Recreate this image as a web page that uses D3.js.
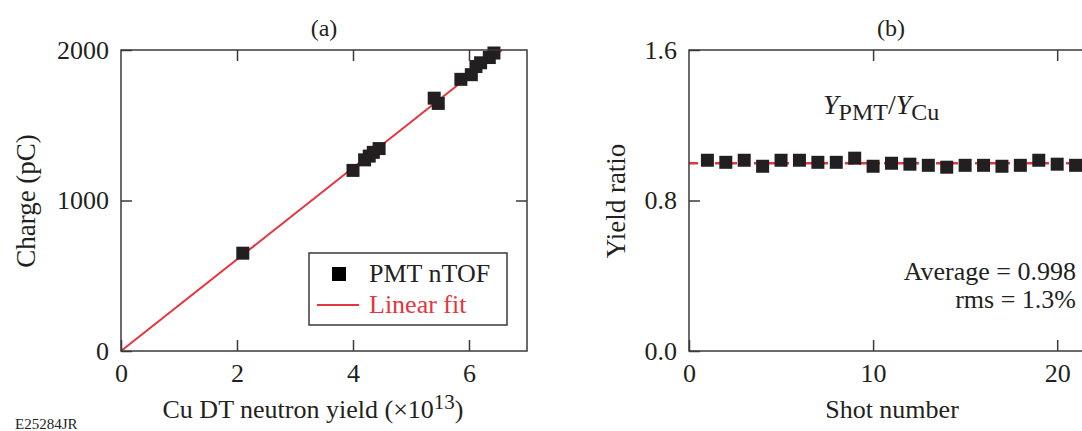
<!DOCTYPE html>
<meta charset="utf-8">
<style>
body { margin: 0; background: #fff; }
text { font-family: "Liberation Serif", "Times New Roman", serif; fill: #231f20; }
.frame { fill: none; stroke: #3a3a3a; stroke-width: 1.5px; }
.tick line { stroke: #3a3a3a; stroke-width: 1.5px; }
.tick text { font-size: 26px; }
</style>
<body>
<script src="https://d3js.org/d3.v7.min.js"></script>
<script>

// panel (a) data: Cu DT neutron yield (x1e13) vs PMT charge (pC)
var yieldA  = [2.1, 4.0, 4.2, 4.28, 4.35, 4.45, 5.4, 5.47, 5.86, 6.04, 6.12, 6.2, 6.35, 6.43];
var chargeA = [650, 1200, 1270, 1295, 1320, 1345, 1680, 1645, 1805, 1836, 1890, 1915, 1950, 1980];
// linear fit endpoints
var fitX = [0, 6.57];
var fitY = [0, 2000];

// panel (b) data: yield ratio by shot
var shots  = [1, 2, 3, 4, 5, 6, 7, 8, 9, 10, 11, 12, 13, 14, 15, 16, 17, 18, 19, 20, 21];
var ratios = [1.014, 1.003, 1.014, 0.982, 1.014, 1.014, 1.003, 1.003, 1.025, 0.982, 0.998,
              0.993, 0.987, 0.977, 0.987, 0.987, 0.982, 0.987, 1.014, 0.993, 0.987];
var average = 0.998;

var ticksAx = [0, 2, 4, 6];
var ticksAy = [0, 1000, 2000];
var ticksBx = [0, 10, 20];
var ticksBy = [0, 0.8, 1.6];

var svg = d3.select("body").append("svg")
    .attr("width", 1082)
    .attr("height", 431);

var top0 = 50, bot0 = 351, tk = 11;

// ---------- panel (a) ----------
var xa = d3.scaleLinear().domain([0, 7]).range([121, 527]);
var ya = d3.scaleLinear().domain([0, 2000]).range([bot0, top0]);

// fit line
var fit = d3.line().x(function(d) { return xa(d[0]); }).y(function(d) { return ya(d[1]); });
svg.append("path")
    .datum(d3.zip(fitX, fitY))
    .attr("d", fit)
    .attr("fill", "none")
    .attr("stroke", "#e5353f")
    .attr("stroke-width", 2);

// points
var ms = 13;
svg.append("g").selectAll("rect")
    .data(d3.zip(yieldA, chargeA))
  .enter().append("rect")
    .attr("x", function(d) { return xa(d[0]) - ms / 2; })
    .attr("y", function(d) { return ya(d[1]) - ms / 2; })
    .attr("width", ms).attr("height", ms)
    .attr("fill", "#231f20");

// axes (ticks point inward)
svg.append("g").attr("transform", "translate(0," + bot0 + ")")
    .call(d3.axisBottom(xa).tickValues(ticksAx).tickSize(-tk).tickPadding(13).tickFormat(d3.format("d")))
    .call(function(g) { g.select(".domain").remove(); });
svg.append("g").attr("transform", "translate(0," + top0 + ")")
    .call(d3.axisTop(xa).tickValues(ticksAx.slice(1)).tickSize(-tk).tickFormat(""))
    .call(function(g) { g.select(".domain").remove(); });
svg.append("g").attr("transform", "translate(121,0)")
    .call(d3.axisLeft(ya).tickValues(ticksAy).tickSize(-tk).tickPadding(12).tickFormat(d3.format("d")))
    .call(function(g) { g.select(".domain").remove(); });
svg.append("g").attr("transform", "translate(527,0)")
    .call(d3.axisRight(ya).tickValues([1000]).tickSize(-tk).tickFormat(""))
    .call(function(g) { g.select(".domain").remove(); });
svg.append("rect").attr("class", "frame")
    .attr("x", 121).attr("y", top0).attr("width", 527 - 121).attr("height", bot0 - top0);

// legend
svg.append("rect").attr("class", "frame")
    .attr("x", 309).attr("y", 253).attr("width", 198).attr("height", 72)
    .style("fill", "#fff");
svg.append("rect").attr("x", 332).attr("y", 267).attr("width", 14).attr("height", 14).attr("fill", "#000");
svg.append("text").attr("x", 369).attr("y", 282).style("font-size", "26px").text("PMT nTOF");
svg.append("line").attr("x1", 317).attr("x2", 359).attr("y1", 305).attr("y2", 305)
    .attr("stroke", "#e5353f").attr("stroke-width", 2);
svg.append("text").attr("x", 369).attr("y", 313).style("font-size", "26px")
    .style("fill", "#e5353f").text("Linear fit");

// labels
svg.append("text").attr("x", 324).attr("y", 36).attr("text-anchor", "middle")
    .style("font-size", "24px").text("(a)");
var xl = svg.append("text").attr("x", 313).attr("y", 418).attr("text-anchor", "middle")
    .style("font-size", "26px");
xl.append("tspan").text("Cu DT neutron yield (\u00d710");
xl.append("tspan").attr("dy", -9).style("font-size", "21px").text("13");
xl.append("tspan").attr("dy", 9).text(")");
svg.append("text").attr("transform", "translate(35,201) rotate(-90)")
    .attr("text-anchor", "middle").style("font-size", "27px").text("Charge (pC)");
svg.append("text").attr("x", 15).attr("y", 429).style("font-size", "15px").text("E25284JR");

// ---------- panel (b) ----------
var xb = d3.scaleLinear().domain([0, 22]).range([689, 1094]);
var yb = d3.scaleLinear().domain([0, 1.6]).range([bot0, top0]);

svg.append("line")
    .attr("x1", xb(0)).attr("x2", xb(22))
    .attr("y1", yb(average)).attr("y2", yb(average))
    .attr("stroke", "#e5353f").attr("stroke-width", 2.5)
    .attr("stroke-dasharray", "9,4");

svg.append("g").selectAll("rect")
    .data(d3.zip(shots, ratios))
  .enter().append("rect")
    .attr("x", function(d) { return xb(d[0]) - ms / 2; })
    .attr("y", function(d) { return yb(d[1]) - ms / 2; })
    .attr("width", ms).attr("height", ms)
    .attr("fill", "#231f20");

svg.append("g").attr("transform", "translate(0," + bot0 + ")")
    .call(d3.axisBottom(xb).tickValues(ticksBx).tickSize(-tk).tickPadding(13))
    .call(function(g) { g.select(".domain").remove(); });
svg.append("g").attr("transform", "translate(0," + top0 + ")")
    .call(d3.axisTop(xb).tickValues(ticksBx.slice(1)).tickSize(-tk).tickFormat(""))
    .call(function(g) { g.select(".domain").remove(); });
svg.append("g").attr("transform", "translate(689,0)")
    .call(d3.axisLeft(yb).tickValues(ticksBy).tickSize(-tk).tickPadding(12).tickFormat(d3.format(".1f")))
    .call(function(g) { g.select(".domain").remove(); });
svg.append("rect").attr("class", "frame")
    .attr("x", 689).attr("y", top0).attr("width", 1094 - 689).attr("height", bot0 - top0);

svg.append("text").attr("x", 891).attr("y", 36).attr("text-anchor", "middle")
    .style("font-size", "24px").text("(b)");
svg.append("text").attr("x", 892).attr("y", 418).attr("text-anchor", "middle")
    .style("font-size", "26px").text("Shot number");
svg.append("text").attr("transform", "translate(625,201) rotate(-90)")
    .attr("text-anchor", "middle").style("font-size", "27px").text("Yield ratio");

var ann = svg.append("text").attr("x", 823).attr("y", 114).style("font-size", "28px");
ann.append("tspan").style("font-style", "italic").text("Y");
ann.append("tspan").attr("dy", 6).style("font-size", "24px").text("PMT");
ann.append("tspan").attr("dy", -6).text("/");
ann.append("tspan").style("font-style", "italic").text("Y");
ann.append("tspan").attr("dy", 6).style("font-size", "24px").text("Cu");

svg.append("text").attr("x", 1076).attr("y", 280).attr("text-anchor", "end")
    .style("font-size", "26px").text("Average = 0.998");
svg.append("text").attr("x", 1076).attr("y", 308).attr("text-anchor", "end")
    .style("font-size", "26px").text("rms = 1.3%");

</script>
</body>
